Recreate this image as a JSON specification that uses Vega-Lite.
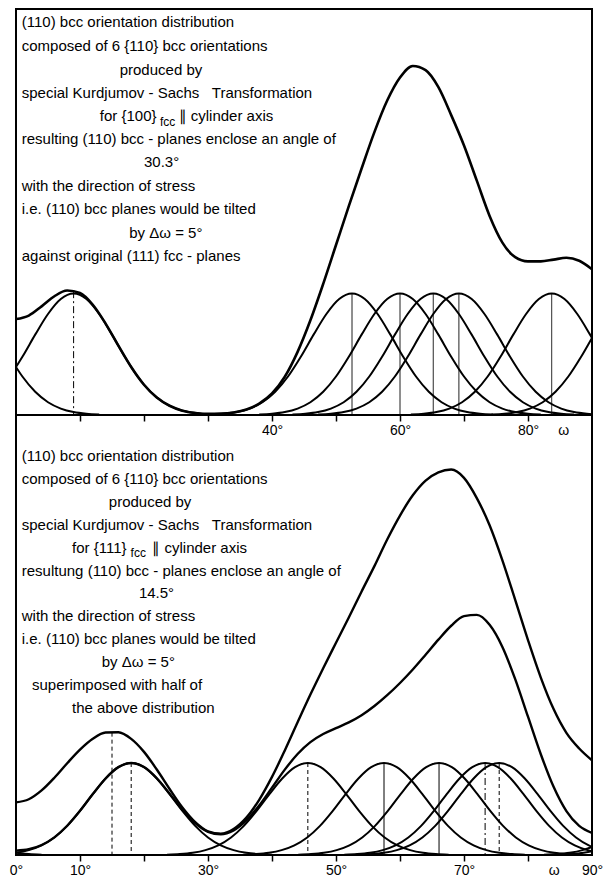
{
"$schema": "https://vega.github.io/schema/vega-lite/v6.json",
"background": "white",
"padding": {"left": 8, "top": 8, "right": 4, "bottom": 2},
"spacing": 0,
"bounds": "flush",
"config": {
  "view": {"stroke": "black", "strokeWidth": 2},
  "font": "Liberation Sans",
  "axis": {"domain": false, "grid": false, "tickColor": "black", "tickWidth": 1.5, "tickSize": 6, "labelColor": "black", "labelFont": "Liberation Sans", "labelFontSize": 14, "labelPadding": 2, "labelOverlap": false, "labelBound": false, "labelFlush": false, "title": null}
},
"datasets": {
  "tc": [
    {"c":"a","w":-3,"v":0.191},{"c":"a","w":-1,"v":0.317},{"c":"a","w":1,"v":0.48},{"c":"a","w":3,"v":0.662},{"c":"a","w":5,"v":0.832},{"c":"a","w":7,"v":0.955},{"c":"a","w":9,"v":1},{"c":"a","w":11,"v":0.955},{"c":"a","w":13,"v":0.832},{"c":"a","w":15,"v":0.662},{"c":"a","w":17,"v":0.48},{"c":"a","w":19,"v":0.317},{"c":"a","w":21,"v":0.191},{"c":"a","w":23,"v":0.105},{"c":"a","w":25,"v":0.053},{"c":"a","w":27,"v":0.024},{"c":"a","w":29,"v":0.01},{"c":"a","w":31,"v":0.004},
    {"c":"b","w":30.5,"v":0.004},{"c":"b","w":32.5,"v":0.01},{"c":"b","w":34.5,"v":0.024},{"c":"b","w":36.5,"v":0.053},{"c":"b","w":38.5,"v":0.105},{"c":"b","w":40.5,"v":0.191},{"c":"b","w":42.5,"v":0.317},{"c":"b","w":44.5,"v":0.48},{"c":"b","w":46.5,"v":0.662},{"c":"b","w":48.5,"v":0.832},{"c":"b","w":50.5,"v":0.955},{"c":"b","w":52.5,"v":1},{"c":"b","w":54.5,"v":0.955},{"c":"b","w":56.5,"v":0.832},{"c":"b","w":58.5,"v":0.662},{"c":"b","w":60.5,"v":0.48},{"c":"b","w":62.5,"v":0.317},{"c":"b","w":64.5,"v":0.191},{"c":"b","w":66.5,"v":0.105},{"c":"b","w":68.5,"v":0.053},{"c":"b","w":70.5,"v":0.024},{"c":"b","w":72.5,"v":0.01},{"c":"b","w":74.5,"v":0.004},
    {"c":"c","w":38,"v":0.004},{"c":"c","w":40,"v":0.01},{"c":"c","w":42,"v":0.024},{"c":"c","w":44,"v":0.053},{"c":"c","w":46,"v":0.105},{"c":"c","w":48,"v":0.191},{"c":"c","w":50,"v":0.317},{"c":"c","w":52,"v":0.48},{"c":"c","w":54,"v":0.662},{"c":"c","w":56,"v":0.832},{"c":"c","w":58,"v":0.955},{"c":"c","w":60,"v":1},{"c":"c","w":62,"v":0.955},{"c":"c","w":64,"v":0.832},{"c":"c","w":66,"v":0.662},{"c":"c","w":68,"v":0.48},{"c":"c","w":70,"v":0.317},{"c":"c","w":72,"v":0.191},{"c":"c","w":74,"v":0.105},{"c":"c","w":76,"v":0.053},{"c":"c","w":78,"v":0.024},{"c":"c","w":80,"v":0.01},{"c":"c","w":82,"v":0.004},
    {"c":"d","w":43.2,"v":0.004},{"c":"d","w":45.2,"v":0.01},{"c":"d","w":47.2,"v":0.024},{"c":"d","w":49.2,"v":0.053},{"c":"d","w":51.2,"v":0.105},{"c":"d","w":53.2,"v":0.191},{"c":"d","w":55.2,"v":0.317},{"c":"d","w":57.2,"v":0.48},{"c":"d","w":59.2,"v":0.662},{"c":"d","w":61.2,"v":0.832},{"c":"d","w":63.2,"v":0.955},{"c":"d","w":65.2,"v":1},{"c":"d","w":67.2,"v":0.955},{"c":"d","w":69.2,"v":0.832},{"c":"d","w":71.2,"v":0.662},{"c":"d","w":73.2,"v":0.48},{"c":"d","w":75.2,"v":0.317},{"c":"d","w":77.2,"v":0.191},{"c":"d","w":79.2,"v":0.105},{"c":"d","w":81.2,"v":0.053},{"c":"d","w":83.2,"v":0.024},{"c":"d","w":85.2,"v":0.01},{"c":"d","w":87.2,"v":0.004},
    {"c":"e","w":47.2,"v":0.004},{"c":"e","w":49.2,"v":0.01},{"c":"e","w":51.2,"v":0.024},{"c":"e","w":53.2,"v":0.053},{"c":"e","w":55.2,"v":0.105},{"c":"e","w":57.2,"v":0.191},{"c":"e","w":59.2,"v":0.317},{"c":"e","w":61.2,"v":0.48},{"c":"e","w":63.2,"v":0.662},{"c":"e","w":65.2,"v":0.832},{"c":"e","w":67.2,"v":0.955},{"c":"e","w":69.2,"v":1},{"c":"e","w":71.2,"v":0.955},{"c":"e","w":73.2,"v":0.832},{"c":"e","w":75.2,"v":0.662},{"c":"e","w":77.2,"v":0.48},{"c":"e","w":79.2,"v":0.317},{"c":"e","w":81.2,"v":0.191},{"c":"e","w":83.2,"v":0.105},{"c":"e","w":85.2,"v":0.053},{"c":"e","w":87.2,"v":0.024},{"c":"e","w":89.2,"v":0.01},{"c":"e","w":91.2,"v":0.004},
    {"c":"f","w":61.7,"v":0.004},{"c":"f","w":63.7,"v":0.01},{"c":"f","w":65.7,"v":0.024},{"c":"f","w":67.7,"v":0.053},{"c":"f","w":69.7,"v":0.105},{"c":"f","w":71.7,"v":0.191},{"c":"f","w":73.7,"v":0.317},{"c":"f","w":75.7,"v":0.48},{"c":"f","w":77.7,"v":0.662},{"c":"f","w":79.7,"v":0.832},{"c":"f","w":81.7,"v":0.955},{"c":"f","w":83.7,"v":1},{"c":"f","w":85.7,"v":0.955},{"c":"f","w":87.7,"v":0.832},{"c":"f","w":89.7,"v":0.662},{"c":"f","w":91.7,"v":0.48},{"c":"f","w":93.7,"v":0.317},
    {"c":"g","w":-3,"v":0.662},{"c":"g","w":-1,"v":0.48},{"c":"g","w":1,"v":0.317},{"c":"g","w":3,"v":0.191},{"c":"g","w":5,"v":0.105},{"c":"g","w":7,"v":0.053},{"c":"g","w":9,"v":0.024},{"c":"g","w":11,"v":0.01},{"c":"g","w":13,"v":0.004},
    {"c":"h","w":74.3,"v":0.004},{"c":"h","w":76.3,"v":0.01},{"c":"h","w":78.3,"v":0.024},{"c":"h","w":80.3,"v":0.053},{"c":"h","w":82.3,"v":0.105},{"c":"h","w":84.3,"v":0.191},{"c":"h","w":86.3,"v":0.317},{"c":"h","w":88.3,"v":0.48},{"c":"h","w":90.3,"v":0.662},{"c":"h","w":92.3,"v":0.832}
  ],
  "ts": [
    {"w":0,"v":0.79},{"w":2,"v":0.819},{"w":4,"v":0.895},{"w":6,"v":0.978},{"w":8,"v":1.025},{"w":10,"v":1.005},{"w":12,"v":0.908},{"w":14,"v":0.753},{"w":16,"v":0.571},{"w":18,"v":0.395},{"w":20,"v":0.249},{"w":22,"v":0.144},{"w":24,"v":0.076},{"w":26,"v":0.036},{"w":28,"v":0.017},{"w":30,"v":0.009},{"w":32,"v":0.011},{"w":34,"v":0.021},{"w":36,"v":0.045},{"w":38,"v":0.094},{"w":40,"v":0.177},{"w":42,"v":0.315},{"w":44,"v":0.52},{"w":46,"v":0.78},{"w":48,"v":1.08},{"w":50,"v":1.4},{"w":52,"v":1.72},{"w":54,"v":2.03},{"w":56,"v":2.33},{"w":58,"v":2.59},{"w":60,"v":2.78},{"w":62,"v":2.875},{"w":64,"v":2.84},{"w":66,"v":2.7},{"w":68,"v":2.47},{"w":70,"v":2.22},{"w":72,"v":1.93},{"w":74,"v":1.64},{"w":76,"v":1.42},{"w":78,"v":1.3},{"w":80,"v":1.265},{"w":82,"v":1.265},{"w":84,"v":1.28},{"w":86,"v":1.295},{"w":88,"v":1.27},{"w":90,"v":1.2}
  ],
  "tr": [
    {"w":9,"v":1.02,"s":"dashdot"},{"w":52.5,"v":1,"s":"solid"},{"w":60,"v":1,"s":"solid"},{"w":65.2,"v":1,"s":"solid"},{"w":69.2,"v":1,"s":"solid"},{"w":83.7,"v":1,"s":"solid"}
  ],
  "tt": [
    {"t":"(110) bcc orientation distribution","w":0.9,"v":3.24},
    {"t":"composed of 6 {110} bcc orientations","w":0.9,"v":3.041},
    {"t":"produced by","w":16.2,"v":2.844},
    {"t":"special Kurdjumov - Sachs\u00a0\u00a0\u00a0Transformation","w":0.9,"v":2.656},
    {"t":"for {100}","w":13.1,"v":2.459},
    {"t":"∥ cylinder axis","w":25.4,"v":2.459},
    {"t":"resulting (110) bcc - planes enclose an angle of","w":0.9,"v":2.27},
    {"t":"30.3°","w":20,"v":2.082},
    {"t":"with the direction of stress","w":0.9,"v":1.885},
    {"t":"i.e. (110) bcc planes would be tilted","w":0.9,"v":1.697},
    {"t":"by Δω = 5°","w":17.7,"v":1.5},
    {"t":"against original (111) fcc - planes","w":0.9,"v":1.311}
  ],
  "tsub": [
    {"t":"fcc","w":22.5,"v":2.415}
  ],
  "bc": [
    {"c":"a","w":-2,"v":0.01},{"c":"a","w":0,"v":0.024},{"c":"a","w":2,"v":0.053},{"c":"a","w":4,"v":0.105},{"c":"a","w":6,"v":0.191},{"c":"a","w":8,"v":0.317},{"c":"a","w":10,"v":0.48},{"c":"a","w":12,"v":0.662},{"c":"a","w":14,"v":0.832},{"c":"a","w":16,"v":0.955},{"c":"a","w":18,"v":1},{"c":"a","w":20,"v":0.955},{"c":"a","w":22,"v":0.832},{"c":"a","w":24,"v":0.662},{"c":"a","w":26,"v":0.48},{"c":"a","w":28,"v":0.317},{"c":"a","w":30,"v":0.191},{"c":"a","w":32,"v":0.105},{"c":"a","w":34,"v":0.053},{"c":"a","w":36,"v":0.024},{"c":"a","w":38,"v":0.01},{"c":"a","w":40,"v":0.004},
    {"c":"b","w":23.6,"v":0.004},{"c":"b","w":25.6,"v":0.01},{"c":"b","w":27.6,"v":0.024},{"c":"b","w":29.6,"v":0.053},{"c":"b","w":31.6,"v":0.105},{"c":"b","w":33.6,"v":0.191},{"c":"b","w":35.6,"v":0.317},{"c":"b","w":37.6,"v":0.48},{"c":"b","w":39.6,"v":0.662},{"c":"b","w":41.6,"v":0.832},{"c":"b","w":43.6,"v":0.955},{"c":"b","w":45.6,"v":1},{"c":"b","w":47.6,"v":0.955},{"c":"b","w":49.6,"v":0.832},{"c":"b","w":51.6,"v":0.662},{"c":"b","w":53.6,"v":0.48},{"c":"b","w":55.6,"v":0.317},{"c":"b","w":57.6,"v":0.191},{"c":"b","w":59.6,"v":0.105},{"c":"b","w":61.6,"v":0.053},{"c":"b","w":63.6,"v":0.024},{"c":"b","w":65.6,"v":0.01},{"c":"b","w":67.6,"v":0.004},
    {"c":"c","w":35.5,"v":0.004},{"c":"c","w":37.5,"v":0.01},{"c":"c","w":39.5,"v":0.024},{"c":"c","w":41.5,"v":0.053},{"c":"c","w":43.5,"v":0.105},{"c":"c","w":45.5,"v":0.191},{"c":"c","w":47.5,"v":0.317},{"c":"c","w":49.5,"v":0.48},{"c":"c","w":51.5,"v":0.662},{"c":"c","w":53.5,"v":0.832},{"c":"c","w":55.5,"v":0.955},{"c":"c","w":57.5,"v":1},{"c":"c","w":59.5,"v":0.955},{"c":"c","w":61.5,"v":0.832},{"c":"c","w":63.5,"v":0.662},{"c":"c","w":65.5,"v":0.48},{"c":"c","w":67.5,"v":0.317},{"c":"c","w":69.5,"v":0.191},{"c":"c","w":71.5,"v":0.105},{"c":"c","w":73.5,"v":0.053},{"c":"c","w":75.5,"v":0.024},{"c":"c","w":77.5,"v":0.01},{"c":"c","w":79.5,"v":0.004},
    {"c":"d","w":44.1,"v":0.004},{"c":"d","w":46.1,"v":0.01},{"c":"d","w":48.1,"v":0.024},{"c":"d","w":50.1,"v":0.053},{"c":"d","w":52.1,"v":0.105},{"c":"d","w":54.1,"v":0.191},{"c":"d","w":56.1,"v":0.317},{"c":"d","w":58.1,"v":0.48},{"c":"d","w":60.1,"v":0.662},{"c":"d","w":62.1,"v":0.832},{"c":"d","w":64.1,"v":0.955},{"c":"d","w":66.1,"v":1},{"c":"d","w":68.1,"v":0.955},{"c":"d","w":70.1,"v":0.832},{"c":"d","w":72.1,"v":0.662},{"c":"d","w":74.1,"v":0.48},{"c":"d","w":76.1,"v":0.317},{"c":"d","w":78.1,"v":0.191},{"c":"d","w":80.1,"v":0.105},{"c":"d","w":82.1,"v":0.053},{"c":"d","w":84.1,"v":0.024},{"c":"d","w":86.1,"v":0.01},{"c":"d","w":88.1,"v":0.004},
    {"c":"e","w":51.3,"v":0.004},{"c":"e","w":53.3,"v":0.01},{"c":"e","w":55.3,"v":0.024},{"c":"e","w":57.3,"v":0.053},{"c":"e","w":59.3,"v":0.105},{"c":"e","w":61.3,"v":0.191},{"c":"e","w":63.3,"v":0.317},{"c":"e","w":65.3,"v":0.48},{"c":"e","w":67.3,"v":0.662},{"c":"e","w":69.3,"v":0.832},{"c":"e","w":71.3,"v":0.955},{"c":"e","w":73.3,"v":1},{"c":"e","w":75.3,"v":0.955},{"c":"e","w":77.3,"v":0.832},{"c":"e","w":79.3,"v":0.662},{"c":"e","w":81.3,"v":0.48},{"c":"e","w":83.3,"v":0.317},{"c":"e","w":85.3,"v":0.191},{"c":"e","w":87.3,"v":0.105},{"c":"e","w":89.3,"v":0.053},{"c":"e","w":91.3,"v":0.024},{"c":"e","w":93.3,"v":0.01},
    {"c":"f","w":53.5,"v":0.004},{"c":"f","w":55.5,"v":0.01},{"c":"f","w":57.5,"v":0.024},{"c":"f","w":59.5,"v":0.053},{"c":"f","w":61.5,"v":0.105},{"c":"f","w":63.5,"v":0.191},{"c":"f","w":65.5,"v":0.317},{"c":"f","w":67.5,"v":0.48},{"c":"f","w":69.5,"v":0.662},{"c":"f","w":71.5,"v":0.832},{"c":"f","w":73.5,"v":0.955},{"c":"f","w":75.5,"v":1},{"c":"f","w":77.5,"v":0.955},{"c":"f","w":79.5,"v":0.832},{"c":"f","w":81.5,"v":0.662},{"c":"f","w":83.5,"v":0.48},{"c":"f","w":85.5,"v":0.317},{"c":"f","w":87.5,"v":0.191},{"c":"f","w":89.5,"v":0.105},{"c":"f","w":91.5,"v":0.053},{"c":"f","w":93.5,"v":0.024},
    {"c":"g","w":-4,"v":0.105},{"c":"g","w":-2,"v":0.053},{"c":"g","w":0,"v":0.024},{"c":"g","w":2,"v":0.01},{"c":"g","w":4,"v":0.004},
    {"c":"h","w":82.5,"v":0.004},{"c":"h","w":84.5,"v":0.01},{"c":"h","w":86.5,"v":0.024},{"c":"h","w":88.5,"v":0.053},{"c":"h","w":90.5,"v":0.105},{"c":"h","w":92.5,"v":0.191},
    {"c":"i","w":84.7,"v":0.004},{"c":"i","w":86.7,"v":0.01},{"c":"i","w":88.7,"v":0.024},{"c":"i","w":90.7,"v":0.053},{"c":"i","w":92.7,"v":0.105}
  ],
  "bs": [
    {"c":"B","w":0,"v":0.048},{"c":"B","w":2,"v":0.063},{"c":"B","w":4,"v":0.109},{"c":"B","w":6,"v":0.192},{"c":"B","w":8,"v":0.318},{"c":"B","w":10,"v":0.48},{"c":"B","w":12,"v":0.662},{"c":"B","w":14,"v":0.832},{"c":"B","w":16,"v":0.955},{"c":"B","w":18,"v":1},{"c":"B","w":20,"v":0.956},{"c":"B","w":22,"v":0.834},{"c":"B","w":24,"v":0.667},{"c":"B","w":26,"v":0.492},{"c":"B","w":28,"v":0.346},{"c":"B","w":30,"v":0.252},{"c":"B","w":32,"v":0.225},{"c":"B","w":34,"v":0.268},{"c":"B","w":36,"v":0.376},{"c":"B","w":38,"v":0.538},{"c":"B","w":40,"v":0.732},{"c":"B","w":42,"v":0.928},{"c":"B","w":44,"v":1.098},{"c":"B","w":46,"v":1.227},{"c":"B","w":48,"v":1.315},{"c":"B","w":50,"v":1.379},{"c":"B","w":52,"v":1.441},{"c":"B","w":54,"v":1.519},{"c":"B","w":56,"v":1.619},{"c":"B","w":58,"v":1.737},{"c":"B","w":60,"v":1.87},{"c":"B","w":62,"v":2.017},{"c":"B","w":64,"v":2.177},{"c":"B","w":66,"v":2.341},{"c":"B","w":68,"v":2.492},{"c":"B","w":70,"v":2.597},{"c":"B","w":72,"v":2.61},{"c":"B","w":74,"v":2.502},{"c":"B","w":76,"v":2.262},{"c":"B","w":78,"v":1.912},{"c":"B","w":80,"v":1.503},{"c":"B","w":82,"v":1.095},{"c":"B","w":84,"v":0.741},{"c":"B","w":86,"v":0.477},{"c":"B","w":88,"v":0.316},{"c":"B","w":90,"v":0.24},
    {"c":"U","w":0,"v":0.572},{"c":"U","w":2,"v":0.606},{"c":"U","w":4,"v":0.702},{"c":"U","w":6,"v":0.84},{"c":"U","w":8,"v":0.998},{"c":"U","w":10,"v":1.146},{"c":"U","w":12,"v":1.264},{"c":"U","w":14,"v":1.331},{"c":"U","w":16,"v":1.334},{"c":"U","w":18,"v":1.262},{"c":"U","w":20,"v":1.121},{"c":"U","w":22,"v":0.929},{"c":"U","w":24,"v":0.717},{"c":"U","w":26,"v":0.516},{"c":"U","w":28,"v":0.357},{"c":"U","w":30,"v":0.258},{"c":"U","w":32,"v":0.232},{"c":"U","w":34,"v":0.282},{"c":"U","w":36,"v":0.406},{"c":"U","w":38,"v":0.6},{"c":"U","w":40,"v":0.849},{"c":"U","w":42,"v":1.137},{"c":"U","w":44,"v":1.443},{"c":"U","w":46,"v":1.744},{"c":"U","w":48,"v":2.031},{"c":"U","w":50,"v":2.307},{"c":"U","w":52,"v":2.581},{"c":"U","w":54,"v":2.865},{"c":"U","w":56,"v":3.14},{"c":"U","w":58,"v":3.43},{"c":"U","w":60,"v":3.69},{"c":"U","w":62,"v":3.91},{"c":"U","w":64,"v":4.07},{"c":"U","w":66,"v":4.16},{"c":"U","w":68,"v":4.19},{"c":"U","w":70,"v":4.1},{"c":"U","w":72,"v":3.88},{"c":"U","w":74,"v":3.584},{"c":"U","w":76,"v":3.203},{"c":"U","w":78,"v":2.773},{"c":"U","w":80,"v":2.336},{"c":"U","w":82,"v":1.929},{"c":"U","w":84,"v":1.586},{"c":"U","w":86,"v":1.328},{"c":"U","w":88,"v":1.158},{"c":"U","w":90,"v":1.03}
  ],
  "br": [
    {"w":15,"v":1.33,"s":"dash"},{"w":18,"v":1,"s":"dash"},{"w":45.6,"v":1,"s":"dash"},{"w":57.5,"v":1,"s":"solid"},{"w":66.1,"v":1,"s":"solid"},{"w":73.3,"v":1,"s":"dashdot"},{"w":75.5,"v":1,"s":"dash"}
  ],
  "bt": [
    {"t":"(110) bcc orientation distribution","w":0.9,"v":4.337},
    {"t":"composed of 6 {110} bcc orientations","w":0.9,"v":4.087},
    {"t":"produced by","w":14.5,"v":3.837},
    {"t":"special Kurdjumov - Sachs\u00a0\u00a0\u00a0Transformation","w":0.9,"v":3.587},
    {"t":"for {111}","w":8.75,"v":3.337},
    {"t":"∥ cylinder axis","w":21.3,"v":3.337},
    {"t":"resultung (110) bcc - planes enclose an angle of","w":0.9,"v":3.087},
    {"t":"14.5°","w":19.2,"v":2.848},
    {"t":"with the direction of stress","w":0.9,"v":2.598},
    {"t":"i.e. (110) bcc planes would be tilted","w":0.9,"v":2.348},
    {"t":"by Δω = 5°","w":13.4,"v":2.098},
    {"t":"superimposed with half of","w":2.5,"v":1.848},
    {"t":"the above distribution","w":8.75,"v":1.598}
  ],
  "bsub": [
    {"t":"fcc","w":17.9,"v":3.283}
  ]
},
"vconcat": [
  {
    "width": 576, "height": 406,
    "encoding": {
      "x": {"field": "w", "type": "quantitative", "scale": {"domain": [0, 90], "nice": false, "zero": false},
            "axis": {"values": [0,10,20,30,40,50,60,70,80,85.5,90],
                     "labelExpr": "datum.value == 40 ? '40°' : datum.value == 60 ? '60°' : datum.value == 80 ? '80°' : datum.value == 85.5 ? 'ω' : ''",
                     "tickOpacity": {"condition": {"test": "datum.value == 85.5 || datum.value == 0 || datum.value == 90", "value": 0}, "value": 1}}},
      "y": {"field": "v", "type": "quantitative", "scale": {"domain": [0, 3.344], "nice": false, "zero": false}, "axis": null}
    },
    "layer": [
      {"data": {"name": "tr"}, "mark": {"type": "rule", "color": "black", "strokeWidth": 1},
       "encoding": {"y2": {"datum": 0}, "strokeDash": {"field": "s", "type": "nominal", "scale": {"domain": ["solid","dash","dashdot"], "range": [[1,0],[4,3],[7,3,2,3]]}, "legend": null}}},
      {"data": {"name": "tc"}, "mark": {"type": "line", "color": "black", "strokeWidth": 2, "interpolate": "monotone", "clip": true},
       "encoding": {"detail": {"field": "c", "type": "nominal"}}},
      {"data": {"name": "ts"}, "mark": {"type": "line", "color": "black", "strokeWidth": 2.6, "interpolate": "monotone", "clip": true},
       "encoding": {}},
      {"data": {"name": "tt"}, "mark": {"type": "text", "align": "left", "baseline": "middle", "font": "Liberation Sans", "fontSize": 15, "color": "black"},
       "encoding": {"text": {"field": "t", "type": "nominal"}}},
      {"data": {"name": "tsub"}, "mark": {"type": "text", "align": "left", "baseline": "middle", "font": "Liberation Sans", "fontSize": 12, "color": "black"},
       "encoding": {"text": {"field": "t", "type": "nominal"}}}
    ]
  },
  {
    "width": 576, "height": 440,
    "encoding": {
      "x": {"field": "w", "type": "quantitative", "scale": {"domain": [0, 90], "nice": false, "zero": false},
            "axis": {"values": [0,10,20,30,40,50,60,70,80,84,90],
                     "labelExpr": "datum.value == 0 ? '0°' : datum.value == 10 ? '10°' : datum.value == 30 ? '30°' : datum.value == 50 ? '50°' : datum.value == 70 ? '70°' : datum.value == 90 ? '90°' : datum.value == 84 ? 'ω' : ''",
                     "tickOpacity": {"condition": {"test": "datum.value == 84 || datum.value == 0 || datum.value == 90", "value": 0}, "value": 1}}},
      "y": {"field": "v", "type": "quantitative", "scale": {"domain": [0, 4.783], "nice": false, "zero": false}, "axis": null}
    },
    "layer": [
      {"data": {"name": "br"}, "mark": {"type": "rule", "color": "black", "strokeWidth": 1},
       "encoding": {"y2": {"datum": 0}, "strokeDash": {"field": "s", "type": "nominal", "scale": {"domain": ["solid","dash","dashdot"], "range": [[1,0],[4,3],[7,3,2,3]]}, "legend": null}}},
      {"data": {"name": "bc"}, "mark": {"type": "line", "color": "black", "strokeWidth": 2, "interpolate": "monotone", "clip": true},
       "encoding": {"detail": {"field": "c", "type": "nominal"}}},
      {"data": {"name": "bs"}, "mark": {"type": "line", "color": "black", "strokeWidth": 2.4, "interpolate": "monotone", "clip": true},
       "encoding": {"detail": {"field": "c", "type": "nominal"}}},
      {"data": {"name": "bt"}, "mark": {"type": "text", "align": "left", "baseline": "middle", "font": "Liberation Sans", "fontSize": 15, "color": "black"},
       "encoding": {"text": {"field": "t", "type": "nominal"}}},
      {"data": {"name": "bsub"}, "mark": {"type": "text", "align": "left", "baseline": "middle", "font": "Liberation Sans", "fontSize": 12, "color": "black"},
       "encoding": {"text": {"field": "t", "type": "nominal"}}}
    ]
  }
]
}
